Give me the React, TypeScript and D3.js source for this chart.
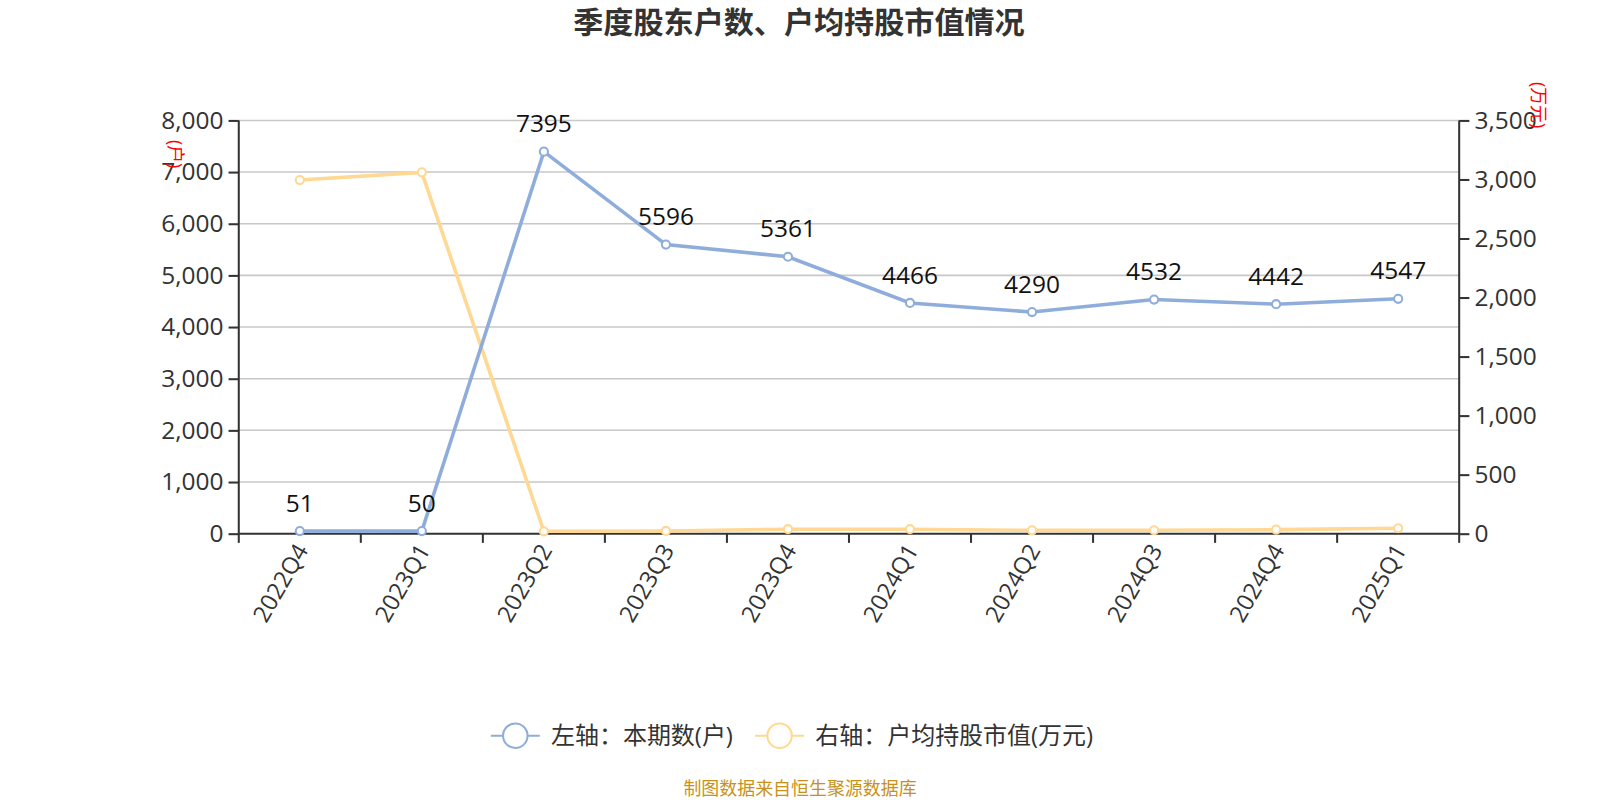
import { useEffect, useRef } from 'react';
import * as d3 from 'd3';

const categories = ['2022Q4', '2023Q1', '2023Q2', '2023Q3', '2023Q4', '2024Q1', '2024Q2', '2024Q3', '2024Q4', '2025Q1'];
const holders = [51, 50, 7395, 5596, 5361, 4466, 4290, 4532, 4442, 4547];
const avgValue = [2995, 3060, 20, 23, 38, 38, 28, 29, 34, 46];
const leftTicks = [0, 1000, 2000, 3000, 4000, 5000, 6000, 7000, 8000];
const rightTicks = [0, 500, 1000, 1500, 2000, 2500, 3000, 3500];

const BLUE = '#8eaddb';
const ORANGE = '#ffd893';
const FONT = '"Open Sans", "Noto Sans CJK SC", sans-serif';

export default function App() {
  const ref = useRef<SVGSVGElement>(null);

  useEffect(() => {
    if (!ref.current) return;
    const svg = d3.select(ref.current);
    svg.selectAll('*').remove();

    const left = 234, right = 1430, top = 118, bottom = 523;

    const x = d3.scaleBand().domain(categories).range([left, right]);
    const yL = d3.scaleLinear().domain([0, 8000]).range([bottom, top]);
    const yR = d3.scaleLinear().domain([0, 3500]).range([bottom, top]);
    const cx = (c: string) => (x(c) as number) + x.bandwidth() / 2;

    // title
    svg.append('text')
      .attr('x', 783).attr('y', 32)
      .attr('text-anchor', 'middle')
      .attr('font-size', 29.5).attr('font-weight', 'bold')
      .attr('fill', '#333').attr('font-family', FONT)
      .text('季度股东户数、户均持股市值情况');

    // grid
    svg.append('g').selectAll('line')
      .data(leftTicks.slice(1))
      .enter().append('line')
      .attr('x1', left).attr('x2', right)
      .attr('y1', d => yL(d)).attr('y2', d => yL(d))
      .attr('stroke', '#c8c8c8').attr('stroke-width', 1.5);

    // left axis
    const gL = svg.append('g').attr('transform', `translate(${left},0)`)
      .call(d3.axisLeft(yL).tickValues(leftTicks).tickFormat(d3.format(',')).tickSize(10).tickPadding(5));
    gL.select('.domain').attr('stroke', '#333').attr('stroke-width', 2).attr('d', `M0,${top}V${bottom}`);
    gL.selectAll('.tick line').attr('stroke', '#333').attr('stroke-width', 2);
    gL.selectAll('.tick text').attr('font-size', 24).attr('fill', '#333').attr('font-family', FONT);

    // right axis
    const gR = svg.append('g').attr('transform', `translate(${right},0)`)
      .call(d3.axisRight(yR).tickValues(rightTicks).tickFormat(d3.format(',')).tickSize(10).tickPadding(5));
    gR.select('.domain').attr('stroke', '#333').attr('stroke-width', 2).attr('d', `M0,${top}V${bottom}`);
    gR.selectAll('.tick line').attr('stroke', '#333').attr('stroke-width', 2);
    gR.selectAll('.tick text').attr('font-size', 24).attr('fill', '#333').attr('font-family', FONT);

    // bottom axis
    const gB = svg.append('g').attr('transform', `translate(0,${bottom})`)
      .call(d3.axisBottom(x).tickSize(0).tickPadding(0));
    gB.select('.domain').remove();
    svg.append('line').attr('x1', left).attr('x2', right).attr('y1', bottom).attr('y2', bottom)
      .attr('stroke', '#333').attr('stroke-width', 2);
    const bounds = categories.map(c => x(c) as number).concat([right]);
    svg.append('g').selectAll('line').data(bounds).enter().append('line')
      .attr('x1', d => d).attr('x2', d => d)
      .attr('y1', bottom).attr('y2', bottom + 9)
      .attr('stroke', '#333').attr('stroke-width', 2);
    gB.selectAll('.tick text')
      .attr('font-size', 23).attr('fill', '#333').attr('font-family', FONT)
      .attr('text-anchor', 'end').attr('dy', '0.35em')
      .attr('transform', 'translate(2,12) rotate(-60)');

    // axis names
    svg.append('text')
      .attr('transform', `translate(172,151) rotate(90)`)
      .attr('text-anchor', 'middle').attr('dy', '0.35em').attr('font-size', 17.5)
      .attr('fill', 'red').attr('font-family', FONT)
      .text('(户)');
    svg.append('text')
      .attr('transform', `translate(1507,103) rotate(90)`)
      .attr('text-anchor', 'middle').attr('dy', '0.35em').attr('font-size', 17.5)
      .attr('fill', 'red').attr('font-family', FONT)
      .text('(万元)');

    // orange line
    const lineR = d3.line<number>().x((_, i) => cx(categories[i])).y(d => yR(d));
    svg.append('path').datum(avgValue)
      .attr('fill', 'none').attr('stroke', ORANGE).attr('stroke-width', 3.5).attr('d', lineR);
    svg.append('g').selectAll('circle').data(avgValue).enter().append('circle')
      .attr('cx', (_, i) => cx(categories[i])).attr('cy', d => yR(d)).attr('r', 4)
      .attr('fill', '#fff').attr('stroke', ORANGE).attr('stroke-width', 2);

    // blue line
    const lineL = d3.line<number>().x((_, i) => cx(categories[i])).y(d => yL(d));
    svg.append('path').datum(holders)
      .attr('fill', 'none').attr('stroke', BLUE).attr('stroke-width', 3.5).attr('d', lineL);
    svg.append('g').selectAll('circle').data(holders).enter().append('circle')
      .attr('cx', (_, i) => cx(categories[i])).attr('cy', d => yL(d)).attr('r', 4)
      .attr('fill', '#fff').attr('stroke', BLUE).attr('stroke-width', 2);
    svg.append('g').selectAll('text').data(holders).enter().append('text')
      .attr('x', (_, i) => cx(categories[i])).attr('y', d => yL(d) - 19)
      .attr('text-anchor', 'middle').attr('font-size', 24)
      .attr('fill', '#111').attr('font-family', FONT)
      .text(d => String(d));

    // legend
    const legend = [
      { label: '左轴：本期数(户)', color: BLUE, x: 481 },
      { label: '右轴：户均持股市值(万元)', color: ORANGE, x: 740 },
    ];
    const lg = svg.append('g').selectAll('g').data(legend).enter().append('g')
      .attr('transform', d => `translate(${d.x},721)`);
    lg.append('line').attr('x1', 0).attr('x2', 48).attr('y1', 0).attr('y2', 0)
      .attr('stroke', d => d.color).attr('stroke-width', 2);
    lg.append('circle').attr('cx', 24).attr('cy', 0).attr('r', 12)
      .attr('fill', '#fff').attr('stroke', d => d.color).attr('stroke-width', 2);
    lg.append('text').attr('x', 59).attr('y', 0).attr('dy', '0.35em')
      .attr('font-size', 23.5).attr('fill', '#333').attr('font-family', FONT)
      .text(d => d.label);

    // footer
    svg.append('text')
      .attr('x', 784).attr('y', 779)
      .attr('text-anchor', 'middle').attr('font-size', 17.6)
      .attr('fill', '#c8921a').attr('font-family', FONT)
      .text('制图数据来自恒生聚源数据库');
  }, []);

  return (
    <div style={{ position: 'absolute', left: 0, top: 0, width: 1600, height: 800 }}>
      <svg ref={ref} width={1600} height={800} viewBox="0 0 1568 784"
        style={{ display: 'block', background: '#fff' }} />
    </div>
  );
}
